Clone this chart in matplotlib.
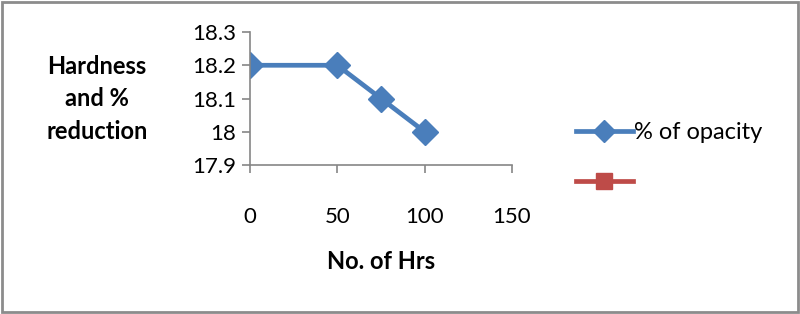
import matplotlib.pyplot as plt
from matplotlib.lines import Line2D

# data
hours = [0, 50, 75, 100]
opacity = [18.2, 18.2, 18.1, 18.0]
y_ticks = [17.9, 18.0, 18.1, 18.2, 18.3]
y_tick_labels = ['17.9', '18', '18.1', '18.2', '18.3']
x_ticks = [0, 50, 100, 150]

blue = '#4A7EBB'
red = '#BE4B48'

plt.rcParams['font.family'] = ['Lato', 'DejaVu Sans']

fig = plt.figure(figsize=(8, 3.14), dpi=100)
ax = fig.add_axes([0.3125, 0.4745, 0.3275, 0.4235])

ax.plot(hours, opacity, color=blue, lw=3.4, marker='D', markersize=13,
        markerfacecolor=blue, markeredgecolor=blue, solid_capstyle='round')

ax.set_xlim(0, 150)
ax.set_ylim(17.9, 18.3)
ax.set_xticks(x_ticks)
ax.set_xticklabels([str(v) for v in x_ticks])
ax.set_yticks(y_ticks)
ax.set_yticklabels(y_tick_labels)

for s in ['top', 'right']:
    ax.spines[s].set_visible(False)
for s in ['left', 'bottom']:
    ax.spines[s].set_color('#868686')
    ax.spines[s].set_linewidth(1.2)
ax.tick_params(axis='both', colors='#868686', length=6, width=1.2, labelsize=16,
               labelcolor='black')
ax.tick_params(axis='x', pad=24)
ax.tick_params(axis='y', pad=4)

ax.set_xlabel('No. of Hrs', fontsize=17, fontweight='bold', labelpad=17)
fig.text(0.121, 0.686, 'Hardness\nand %\nreduction', ha='center', va='center',
         fontsize=17, fontweight='bold', linespacing=1.5)

handles = [
    Line2D([], [], color=blue, lw=3.4, marker='D', markersize=11),
    Line2D([], [], color=red, lw=3.4, marker='s', markersize=12),
]
fig.legend(handles, ['% of opacity', ''], loc='center left',
           bbox_to_anchor=(0.72, 0.498), frameon=False, fontsize=17,
           handlelength=2.4, handletextpad=0.05, labelspacing=1.25,
           borderpad=0, borderaxespad=0)

# outer frame like the chart area border
fig.patches.append(plt.Rectangle((0.003, 0.005), 0.994, 0.99, transform=fig.transFigure,
                                 fill=False, edgecolor='#8c8c8c', lw=2))

fig.savefig('out.png', dpi=100)
